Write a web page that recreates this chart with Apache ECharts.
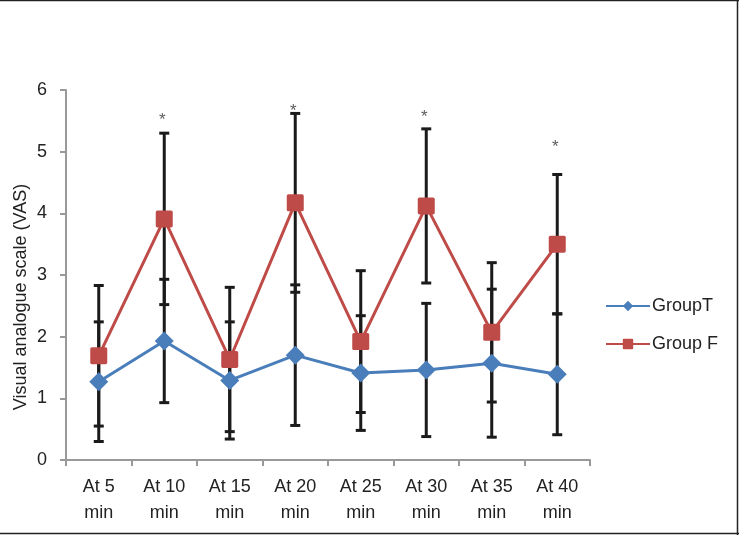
<!DOCTYPE html>
<html>
<head>
<meta charset="utf-8">
<script src="https://cdn.jsdelivr.net/npm/echarts@6/dist/echarts.min.js"></script>
<style>
html,body{margin:0;padding:0;background:#fff;}
#chart{width:739px;height:535px;}
</style>
</head>
<body>
<div id="chart"></div>
<script>
var categories = ['At 5\nmin','At 10\nmin','At 15\nmin','At 20\nmin','At 25\nmin','At 30\nmin','At 35\nmin','At 40\nmin'];
var groupTMean = [1.27, 1.93, 1.29, 1.70, 1.41, 1.46, 1.57, 1.39];
var groupTSD   = [0.97, 1.00, 0.95, 1.14, 0.93, 1.08, 1.20, 0.98];
var groupFMean = [1.69, 3.91, 1.63, 4.17, 1.92, 4.12, 2.07, 3.50];
var groupFSD   = [1.14, 1.39, 1.17, 1.45, 1.15, 1.25, 1.13, 1.13];
var asteriskCats = [1, 3, 5, 7];
var asteriskY = [5.58, 5.72, 5.62, 5.14];
var yTicks = [0, 1, 2, 3, 4, 5, 6];
var yTitle = 'Visual analogue scale (VAS)';

var errData = [];
for (var i = 0; i < categories.length; i++) {
  errData.push([i, groupTMean[i] - groupTSD[i], groupTMean[i] + groupTSD[i]]);
  errData.push([i, groupFMean[i] - groupFSD[i], groupFMean[i] + groupFSD[i]]);
}
var astData = asteriskCats.map(function (c, k) { return [c, asteriskY[k]]; });

var chart = echarts.init(document.getElementById('chart'));
var font = 'Liberation Sans, Arial, sans-serif';
chart.setOption({
  animation: false,
  backgroundColor: '#fff',
  grid: { left: 66, right: 149, top: 90, bottom: 75, containLabel: false },
  legend: {
    orient: 'vertical',
    left: 600,
    top: 292,
    itemGap: 20,
    itemWidth: 44,
    itemHeight: 13,
    data: ['GroupT', 'Group F'],
    textStyle: { fontFamily: font, fontSize: 18, color: '#222', padding: [0, 0, 0, -3] }
  },
  xAxis: {
    type: 'category',
    data: categories,
    boundaryGap: true,
    axisLine: { lineStyle: { color: '#999', width: 2 } },
    axisTick: { show: true, length: 6, lineStyle: { color: '#999', width: 2 } },
    axisLabel: { fontFamily: font, fontSize: 18, color: '#222', lineHeight: 26, margin: 14, interval: 0 },
    splitLine: { show: false }
  },
  yAxis: {
    type: 'value',
    min: yTicks[0],
    max: yTicks[yTicks.length - 1],
    interval: 1,
    axisLine: { show: true, lineStyle: { color: '#999', width: 2 } },
    axisTick: { show: true, length: 6, lineStyle: { color: '#999', width: 2 } },
    axisLabel: { fontFamily: font, fontSize: 18, color: '#222', margin: 19 },
    splitLine: { show: false }
  },
  series: [
    {
      type: 'custom',
      name: 'err',
      z: 1,
      data: errData,
      renderItem: function (params, api) {
        var x = api.value(0);
        var lo = api.coord([x, api.value(1)]);
        var hi = api.coord([x, api.value(2)]);
        var hw = 5;
        var st = { stroke: '#1a1a1a', lineWidth: 3 };
        return {
          type: 'group',
          children: [
            { type: 'line', shape: { x1: lo[0], y1: lo[1], x2: hi[0], y2: hi[1] }, style: st },
            { type: 'line', shape: { x1: lo[0] - hw, y1: lo[1], x2: lo[0] + hw, y2: lo[1] }, style: st },
            { type: 'line', shape: { x1: hi[0] - hw, y1: hi[1], x2: hi[0] + hw, y2: hi[1] }, style: st }
          ]
        };
      },
      silent: true
    },
    {
      type: 'line',
      name: 'GroupT',
      z: 3,
      data: groupTMean,
      symbol: 'diamond',
      symbolSize: 19,
      itemStyle: { color: '#4a7ebb' },
      lineStyle: { color: '#4a7ebb', width: 3 }
    },
    {
      type: 'line',
      name: 'Group F',
      z: 4,
      data: groupFMean,
      symbol: 'path://M2,0 L18,0 Q20,0 20,2 L20,18 Q20,20 18,20 L2,20 Q0,20 0,18 L0,2 Q0,0 2,0 Z',
      symbolSize: 17,
      itemStyle: { color: '#be4b48' },
      lineStyle: { color: '#be4b48', width: 3 }
    },
    {
      type: 'scatter',
      name: 'ast',
      z: 5,
      data: astData,
      symbolSize: 0,
      silent: true,
      label: {
        show: true,
        position: 'inside',
        formatter: '*',
        offset: [-2, 4],
        fontFamily: font,
        fontSize: 17,
        color: '#333'
      }
    }
  ],
  graphic: [
    {
      type: 'text',
      x: 21,
      y: 297,
      rotation: Math.PI / 2,
      style: {
        text: yTitle,
        fontFamily: font,
        fontSize: 18,
        fill: '#222',
        align: 'center',
        verticalAlign: 'middle'
      }
    },
    { type: 'line', shape: { x1: 0, y1: 0.5, x2: 739, y2: 0.5 }, style: { stroke: '#222', lineWidth: 1.5 } },
    { type: 'line', shape: { x1: 737.5, y1: 0, x2: 737.5, y2: 535 }, style: { stroke: '#222', lineWidth: 1.5 } },
    { type: 'line', shape: { x1: 0, y1: 533.5, x2: 739, y2: 533.5 }, style: { stroke: '#222', lineWidth: 1.5 } }
  ]
});
</script>
</body>
</html>
